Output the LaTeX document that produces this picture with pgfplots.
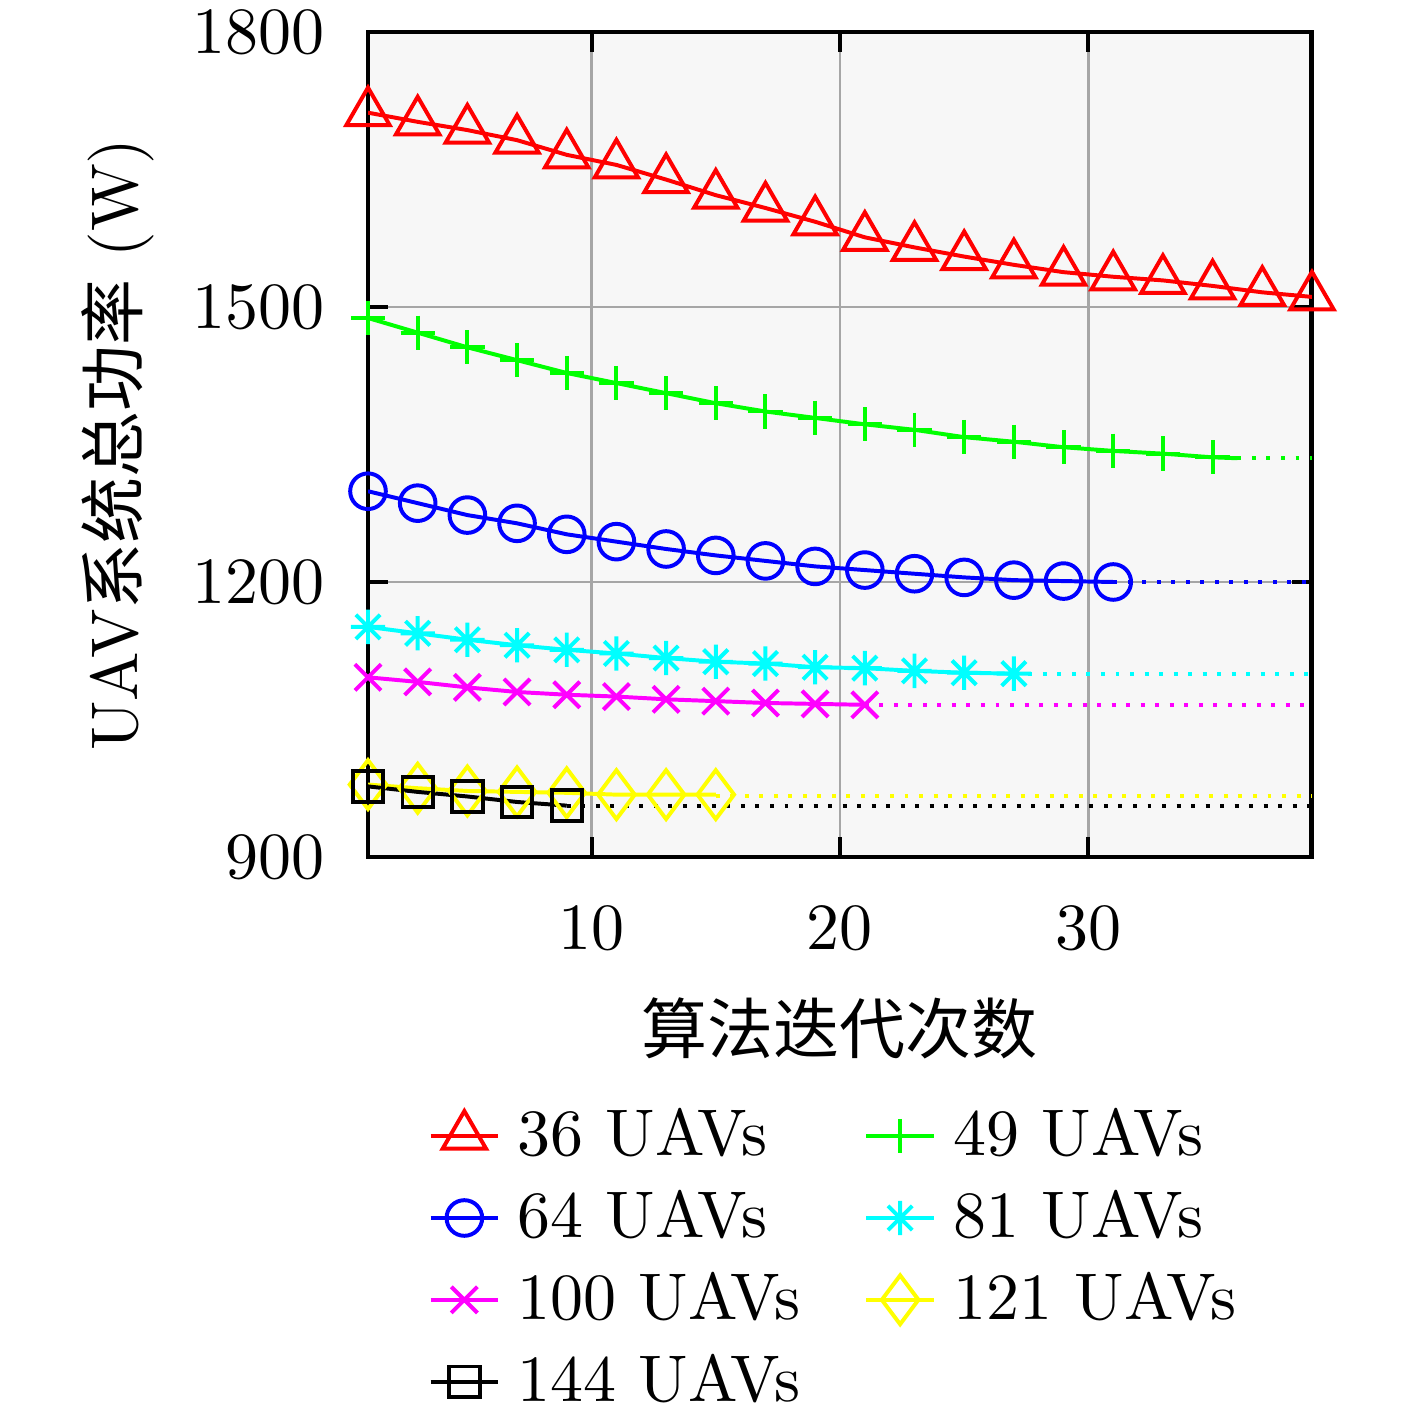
\documentclass[border=0pt]{standalone}
\usepackage{fontspec}
\usepackage{pgfplots}
\pgfplotsset{compat=1.18}
\newfontfamily\cjk{Noto Sans CJK SC}
\pgfdeclareplotmark{ast8}{%
 \pgfpathmoveto{\pgfqpoint{0pt}{\pgfplotmarksize}}\pgfpathlineto{\pgfqpoint{0pt}{-\pgfplotmarksize}}%
 \pgfpathmoveto{\pgfqpoint{\pgfplotmarksize}{0pt}}\pgfpathlineto{\pgfqpoint{-\pgfplotmarksize}{0pt}}%
 \pgfpathmoveto{\pgfqpoint{.7071\pgfplotmarksize}{.7071\pgfplotmarksize}}\pgfpathlineto{\pgfqpoint{-.7071\pgfplotmarksize}{-.7071\pgfplotmarksize}}%
 \pgfpathmoveto{\pgfqpoint{.7071\pgfplotmarksize}{-.7071\pgfplotmarksize}}\pgfpathlineto{\pgfqpoint{-.7071\pgfplotmarksize}{.7071\pgfplotmarksize}}%
 \pgfusepathqstroke}
\definecolor{cred}{rgb}{1,0,0}
\definecolor{cgreen}{rgb}{0,1,0}
\definecolor{cblue}{rgb}{0,0,1}
\definecolor{ccyan}{rgb}{0,1,1}
\definecolor{cmag}{rgb}{1,0,1}
\definecolor{cyel}{rgb}{1,1,0}
\begin{document}
\begin{tikzpicture}
\path[use as bounding box] (-55.76pt,-83.48pt) rectangle (158.94pt,129.85pt);
\begin{axis}[
  scale only axis, width=143.03pt, height=125pt,
  xmin=1, xmax=39, ymin=900, ymax=1800,
  xtick={10,20,30}, ytick={900,1200,1500,1800},
  /pgf/number format/set thousands separator={},
  grid=major, major grid style={black!35, line width=0.4pt},
  axis line style={line width=0.75pt},
  tick align=inside, major tick length=3pt, tick style={black, line width=0.6pt},
  axis background/.style={fill=black!3},
  xticklabel style={yshift=-4pt},
  yticklabel style={xshift=-3pt},
  xlabel={\cjk 算法迭代次数},
  xlabel style={at={(rel axis cs:0.5,0)}, anchor=center, yshift=-25.9pt},
  ylabel={UAV{\cjk 系统总功率} (W)},
  every axis y label/.style={at={(rel axis cs:0,0.5)}, anchor=center, rotate=90, yshift=37.9pt},
  every axis plot/.append style={line width=0.6pt},
  legend columns=2,
  legend cell align=left,
  legend style={at={(rel axis cs:0,0)}, anchor=north west, xshift=9pt, yshift=-35.9pt,
    draw=none, fill=none, inner sep=0pt, row sep=0pt,
    nodes={text height=7pt, text depth=1pt, inner ysep=2.2pt, inner xsep=2.7pt},
    /tikz/every even column/.append style={column sep=7pt}},
  legend image code/.code={\draw[mark repeat=2,mark phase=2,#1] plot coordinates {(0pt,0pt) (5.1pt,0pt) (10.2pt,0pt)};},
]
\addplot[cred, mark=triangle, mark size=3.8pt] coordinates {(1,1712)(3,1702)(5,1693)(7,1682)(9,1666)(11,1655)(13,1639)(15,1622)(17,1608)(19,1593)(21,1576)(23,1565)(25,1555)(27,1546)(29,1538)(31,1533)(33,1529)(35,1523)(37,1516)(39,1511)};
\addlegendentry{36 UAVs}
\addplot[cgreen, mark=+, mark size=2.6pt] coordinates {(1,1488)(3,1472)(5,1456)(7,1442)(9,1428)(11,1417)(13,1406)(15,1395)(17,1386)(19,1379)(21,1372)(23,1366)(25,1358)(27,1353)(29,1347)(31,1343)(33,1340)(35,1336)};
\addlegendentry{49 UAVs}
\addplot[cblue, mark=o, mark size=2.7pt] coordinates {(1,1299)(3,1286)(5,1273)(7,1264)(9,1252)(11,1244)(13,1236)(15,1229)(17,1223)(19,1217)(21,1213)(23,1209)(25,1205)(27,1202)(29,1201)(31,1200)};
\addlegendentry{64 UAVs}
\addplot[ccyan, mark=ast8, mark size=2.6pt] coordinates {(1,1151)(3,1144)(5,1137)(7,1131)(9,1126)(11,1122)(13,1117)(15,1113)(17,1111)(19,1107)(21,1106)(23,1103)(25,1101)(27,1100)};
\addlegendentry{81 UAVs}
\addplot[cmag, mark=x, mark size=2.8pt] coordinates {(1,1096)(3,1091)(5,1085)(7,1080)(9,1077)(11,1075)(13,1072)(15,1070)(17,1068)(19,1067)(21,1066)};
\addlegendentry{100 UAVs}
\addplot[cyel, mark=diamond, mark size=3.7pt] coordinates {(1,979)(3,975)(5,972)(7,971)(9,970)(11,968)(13,968)(15,968)};
\addlegendentry{121 UAVs}
\addplot[black, mark=square, mark size=2.3pt] coordinates {(1,977)(3,971)(5,966)(7,960)(9,956)};
\addlegendentry{144 UAVs}
\addplot[cgreen, forget plot] coordinates {(35,1336)(36,1335)};
\addplot[cgreen, forget plot, dash pattern=on 0.6pt off 1.6pt] coordinates {(36,1335)(39,1335)};
\addplot[cblue, forget plot, dash pattern=on 0.6pt off 1.6pt] coordinates {(31,1200)(39,1200)};
\addplot[ccyan, forget plot, dash pattern=on 0.6pt off 1.6pt] coordinates {(27,1100)(39,1100)};
\addplot[cmag, forget plot, dash pattern=on 0.6pt off 1.6pt] coordinates {(21,1066)(39,1066)};
\addplot[cyel, forget plot, dash pattern=on 0.6pt off 1.6pt] coordinates {(15,967)(39,967)};
\addplot[black, forget plot, dash pattern=on 0.6pt off 1.6pt] coordinates {(9,956)(39,956)};
\end{axis}
\end{tikzpicture}
\end{document}
